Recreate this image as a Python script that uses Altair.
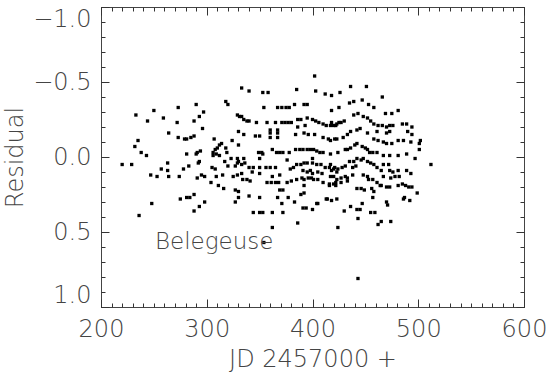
import altair as alt
import pandas as pd

# ---- data (JD - 2457000, residual) ----
jd = [
    220, 229, 233, 235, 232, 238, 243, 236, 244, 247, 253, 248, 250, 257, 259, 263, 263, 264, 264,
    272, 273, 273, 274, 278, 279, 281, 285, 288, 281, 283, 275, 281, 284, 288, 288, 288, 290, 290,
    291, 294, 292, 293, 291, 295, 293, 297, 296, 293, 298, 298, 304, 305, 308, 306, 308, 306, 309,
    312, 307, 310, 312, 314, 309, 311, 316, 315, 325, 317, 323, 329, 330, 335, 336, 329, 333, 318,
    319, 320, 327, 318, 320, 324, 330, 330,
    333, 340, 353, 358, 385, 402, 403, 412, 418, 354, 367, 371, 375, 378, 383, 392, 395, 418, 425,
    329, 331, 333, 335, 338, 340, 347, 357, 365, 371, 374, 377, 380, 386, 389, 395, 400, 403, 406,
    410, 413, 418, 422, 425, 386, 393,
    360, 367, 360, 367, 360, 367, 335, 346, 350, 384, 392, 396, 402, 410, 415, 421,
    349, 352, 353, 350, 362, 366, 369, 372, 378, 384, 388, 391, 395, 398, 401, 404, 407, 410, 417,
    424, 400, 376,
    340, 344, 350, 356, 360, 365, 379, 382, 385, 389, 392, 395, 400, 404, 408, 412, 416, 420, 423,
    391, 395, 398, 400, 405, 409,
    333, 343, 350, 369, 329, 362, 334, 338, 341, 357, 361, 365, 368, 376, 380, 385, 390, 392, 396,
    399, 401, 405, 410, 392, 416,
    327, 330, 369, 372, 340, 330, 327, 350, 367, 377, 389, 392, 404, 413, 383, 371, 394, 391, 400,
    405, 344, 350, 353, 362, 372, 386, 362, 354,
    426, 435, 439, 447, 436, 451, 453, 458, 466, 469, 475, 481,
    417, 420, 423, 427, 430, 439, 443, 448, 452, 455, 458, 462, 466, 470, 473, 476, 485, 489, 494,
    490, 494,
    417, 423, 429, 433, 436, 442, 445, 452, 461, 470, 473, 458, 462, 467, 470, 475, 481, 486, 493,
    502, 501,
    431, 433, 436, 440, 442, 447, 450, 452, 454, 457, 461, 467, 473, 481, 489, 497, 501, 512,
    417, 418, 421, 424, 428, 431, 435, 439, 442, 446, 448, 452, 455, 458, 461, 465, 438, 441, 467,
    472, 473, 476, 481, 489, 493,
    417, 420, 423, 427, 431, 438, 448, 452, 453, 457, 467, 474, 478, 482,
    416, 420, 422, 427, 433, 422, 433, 442, 446, 449, 456, 458, 461, 464, 465, 470, 473, 481, 485,
    488, 491, 494, 499, 457, 487,
    414, 418, 423, 436, 430, 442, 445, 447, 455, 459, 462, 465, 474, 443, 424, 470, 471, 486, 492,
    443,
]
res = [
    0.05, 0.05, -0.28, -0.11, -0.07, -0.03, -0.01, 0.39, -0.24, 0.12, 0.13, 0.31, -0.31, 0.08, -0.26, 0.04, 0.09, -0.16, 0.13,
    -0.23, -0.33, -0.13, 0.13, 0.08, -0.12, -0.12, -0.13, -0.14, -0.02, 0.06, 0.28, 0.27, 0.27, 0.25, -0.24, 0.36, -0.35, -0.02,
    -0.03, -0.04, 0.04, 0.03, 0.14, 0.12, -0.27, -0.30, -0.19, 0.33, 0.30, 0.13, 0.17, 0.07, 0.08, -0.03, -0.05, -0.01, -0.02,
    -0.01, -0.12, -0.06, -0.08, -0.09, 0.13, 0.19, 0.21, 0.12, 0.13, 0.03, 0.01, 0.01, 0.03, 0.01, 0.04, 0.04, 0.05, -0.06,
    -0.03, 0.06, 0.06, -0.37, -0.35, -0.11, -0.17, -0.08,
    -0.46, -0.44, -0.43, -0.43, -0.45, -0.54, -0.44, -0.42, -0.41, -0.33, -0.33, -0.33, -0.33, -0.33, -0.35, -0.35, -0.35, -0.31, -0.33,
    -0.28, -0.27, -0.27, -0.25, -0.24, -0.24, -0.23, -0.23, -0.23, -0.23, -0.23, -0.23, -0.23, -0.25, -0.25, -0.26, -0.25, -0.24, -0.23,
    -0.22, -0.21, -0.23, -0.21, -0.23, -0.20, -0.21,
    -0.18, -0.18, -0.16, -0.16, -0.13, -0.13, -0.15, -0.14, -0.14, -0.15, -0.16, -0.15, -0.15, -0.13, -0.12, -0.12,
    -0.03, -0.03, -0.02, 0.01, -0.05, -0.03, -0.03, -0.03, -0.03, -0.05, -0.05, -0.05, -0.05, -0.05, -0.05, -0.04, -0.03, -0.03, -0.02,
    -0.03, 0.01, 0.02,
    0.07, 0.07, 0.07, 0.07, 0.07, 0.07, 0.08, 0.07, 0.05, 0.05, 0.04, 0.04, 0.04, 0.05, 0.05, 0.07, 0.07, 0.08, 0.10,
    0.09, 0.10, 0.09, 0.11, 0.10, 0.11,
    0.11, 0.10, 0.11, 0.12, 0.12, 0.13, 0.15, 0.15, 0.16, 0.17, 0.17, 0.17, 0.17, 0.17, 0.16, 0.15, 0.14, 0.15, 0.14,
    0.14, 0.15, 0.15, 0.17, 0.19, 0.19,
    0.22, 0.23, 0.22, 0.22, 0.26, 0.27, 0.30, 0.27, 0.27, 0.27, 0.25, 0.24, 0.31, 0.28, 0.30, 0.31, 0.34, 0.34, 0.35,
    0.31, 0.37, 0.37, 0.37, 0.37, 0.37, 0.44, 0.47, 0.57,
    -0.43, -0.36, -0.37, -0.38, -0.47, -0.47, -0.35, -0.33, -0.40, -0.29, -0.29, -0.31,
    -0.21, -0.21, -0.22, -0.23, -0.24, -0.28, -0.29, -0.27, -0.26, -0.24, -0.22, -0.21, -0.21, -0.20, -0.21, -0.21, -0.22, -0.22, -0.20,
    -0.17, -0.15,
    -0.11, -0.12, -0.13, -0.15, -0.17, -0.18, -0.19, -0.16, -0.17, -0.16, -0.17, -0.12, -0.11, -0.10, -0.09, -0.09, -0.11, -0.11, -0.10,
    -0.11, -0.09,
    -0.05, -0.05, -0.06, -0.08, -0.09, -0.07, -0.06, -0.05, -0.03, -0.03, -0.03, -0.01, -0.01, -0.01, -0.02, 0.01, -0.05, 0.05,
    0.05, 0.09, 0.07, 0.08, 0.07, 0.06, 0.03, 0.03, 0.01, 0.02, 0.01, 0.03, 0.04, 0.05, 0.07, 0.09, 0.07, 0.06, 0.05,
    0.05, 0.09, 0.10, 0.09, 0.09, 0.11,
    0.13, 0.13, 0.15, 0.14, 0.13, 0.12, 0.12, 0.13, 0.15, 0.15, 0.13, 0.14, 0.13, 0.13,
    0.18, 0.18, 0.17, 0.17, 0.14, 0.19, 0.16, 0.21, 0.21, 0.22, 0.21, 0.23, 0.17, 0.19, 0.19, 0.20, 0.20, 0.19, 0.18,
    0.19, 0.20, 0.20, 0.24, 0.27, 0.27,
    0.28, 0.29, 0.28, 0.33, 0.36, 0.35, 0.35, 0.31, 0.37, 0.37, 0.45, 0.43, 0.43, 0.41, 0.47, 0.30, 0.32, 0.28, 0.29,
    0.81,
]

label_text = ["Belegeuse"]
label_x = [251]
label_y = [0.61]

x_domain = [200, 600]
y_domain = [-1.0, 1.0]
x_major = [200, 300, 400, 500, 600]
x_minor = list(range(200, 601, 10))
y_major = [-1.0, -0.5, 0.0, 0.5, 1.0]
y_minor = [-1.0, -0.9, -0.8, -0.7, -0.6, -0.5, -0.4, -0.3, -0.2, -0.1, 0.0,
           0.1, 0.2, 0.3, 0.4, 0.5, 0.6, 0.7, 0.8, 0.9, 1.0]

n = min(len(jd), len(res))
df = pd.DataFrame({"jd": jd[:n], "res": res[:n]})
lab = pd.DataFrame({"t": label_text, "x": label_x, "y": label_y})

FONT = "DejaVu Sans"
WEIGHT = 200
INK = "#444444"
TICK = "#333333"
FS = 24

xs = alt.Scale(domain=x_domain, nice=False, zero=False)
ys = alt.Scale(domain=y_domain, reverse=True, nice=False, zero=False)


def tick_axis(orient, values, size):
    return alt.Axis(orient=orient, values=values, tickSize=size, offset=-size,
                    domain=False, grid=False, labels=False, title="",
                    tickColor=TICK, tickWidth=1)


x_main = alt.Axis(orient="bottom", values=x_major, tickSize=8, offset=-8, domain=False,
                  grid=False, tickColor=TICK, tickWidth=1, format="d",
                  labelFont=FONT, labelFontSize=FS, labelFontWeight=WEIGHT, labelColor=INK,
                  labelPadding=10, labelFlush=False, labelOverlap=False,
                  title="JD 2457000 +", titleFont=FONT, titleFontSize=FS,
                  titleFontWeight=WEIGHT, titleColor=INK, titlePadding=6)
y_main = alt.Axis(orient="left", values=y_major, tickSize=8, offset=-8, domain=False,
                  grid=False, tickColor=TICK, tickWidth=1, format=".1f",
                  labelFont=FONT, labelFontSize=FS, labelFontWeight=WEIGHT, labelColor=INK,
                  labelPadding=10, labelFlush=True, labelOverlap=False,
                  title="Residual", titleFont=FONT, titleFontSize=FS,
                  titleFontWeight=WEIGHT, titleColor=INK, titlePadding=5)

points = alt.Chart(df).mark_point(shape="square", filled=True, size=11, color="black",
                                  opacity=1).encode(
    x=alt.X("jd:Q", scale=xs, axis=x_main),
    y=alt.Y("res:Q", scale=ys, axis=y_main),
)

minor_low = alt.Chart(df).mark_point(opacity=0).encode(
    x=alt.X("jd:Q", scale=xs, axis=tick_axis("bottom", x_minor, 4)),
    y=alt.Y("res:Q", scale=ys, axis=tick_axis("left", y_minor, 4)),
)
major_high = alt.Chart(df).mark_point(opacity=0).encode(
    x=alt.X("jd:Q", scale=xs, axis=tick_axis("top", x_major, 8)),
    y=alt.Y("res:Q", scale=ys, axis=tick_axis("right", y_major, 8)),
)
minor_high = alt.Chart(df).mark_point(opacity=0).encode(
    x=alt.X("jd:Q", scale=xs, axis=tick_axis("top", x_minor, 4)),
    y=alt.Y("res:Q", scale=ys, axis=tick_axis("right", y_minor, 4)),
)

text = alt.Chart(lab).mark_text(align="left", baseline="alphabetic", font=FONT,
                                fontSize=23, fontWeight=WEIGHT, color=INK).encode(
    x=alt.X("x:Q", scale=xs, axis=None),
    y=alt.Y("y:Q", scale=ys, axis=None),
    text="t:N",
)

chart = alt.layer(points, minor_low, major_high, minor_high, text).resolve_axis(
    x="independent", y="independent"
).properties(
    width=423, height=300,
    padding={"left": 101, "top": 7, "right": 33, "bottom": 67},
    autosize=alt.AutoSizeParams(type="none"),
    background="white",
).configure_view(stroke=INK, strokeWidth=1)

chart.save("out.html", embed_options={"renderer": "svg", "actions": False})
